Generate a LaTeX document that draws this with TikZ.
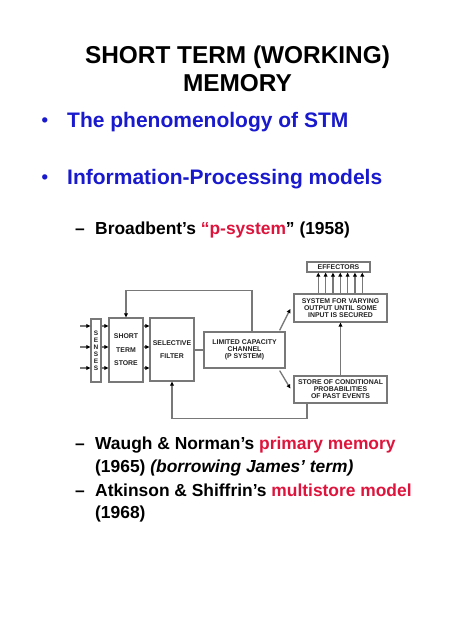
\documentclass[tikz,border=0pt]{standalone}
\usepackage{fontspec}
\setmainfont{Liberation Sans}
\usetikzlibrary{arrows.meta,calc}
\definecolor{ttblue}{RGB}{25,25,205}
\definecolor{ttred}{RGB}{222,20,60}
\definecolor{lgray}{RGB}{120,120,120}
\definecolor{dtext}{RGB}{35,35,35}
\begin{document}
\begin{tikzpicture}[x=1pt,y=-1pt,
  box/.style={draw=lgray, line width=1.3pt, inner sep=0pt, fill=white},
  dtxt/.style={font=\fontsize{6.9}{7}\selectfont\bfseries, text=dtext, align=center},
  arr/.style={draw=lgray, line width=1.3pt, -{Triangle[length=4pt,width=3.8pt,color=black]}},
  conn/.style={draw=lgray, line width=1.3pt},
  txt/.style={inner sep=0pt, anchor=base west},
  titlef/.style={font=\fontsize{24.4}{29}\selectfont\bfseries},
  bulf/.style={font=\fontsize{21}{25}\selectfont\bfseries, text=ttblue},
  dotf/.style={font=\fontsize{18.5}{22}\selectfont\bfseries, text=ttblue},
  subf/.style={font=\fontsize{17.4}{21}\selectfont\bfseries},
]
\fill[white] (0,0) rectangle (474,631);
\useasboundingbox (0,0) rectangle (474,631);

% title
\node[titlef, inner sep=0pt, anchor=base] (t1) at (237.5,64) {SHORT TERM (WORKING)};
\node[titlef, inner sep=0pt, anchor=base] (t2) at (237.5,92) {MEMORY};

% bullets
\node[txt, dotf] (b1d) at (41.5,127) {•};
\node[txt, bulf] (b1) at (67,128) {The phenomenology of STM};
\node[txt, dotf] (b2d) at (41.5,183) {•};
\node[txt, bulf] (b2) at (67,184) {Information-Processing models};

% sub bullets
\node[txt, subf] (s1d) at (75,234) {–};
\node[txt, subf] (s1) at (95,234) {Broadbent’s \textcolor{ttred}{“p-system}” (1958)};
\node[txt, subf] (s2d) at (75,449) {–};
\node[txt, subf] (s2) at (95,449) {Waugh \& Norman’s \textcolor{ttred}{primary memory}};
\node[txt, subf] (s2b) at (95,472) {(1965) \textit{(borrowing James’ term)}};
\node[txt, subf] (s3d) at (75,496) {–};
\node[txt, subf] (s3) at (95,496) {Atkinson \& Shiffrin’s \textcolor{ttred}{multistore model}};
\node[txt, subf] (s3b) at (95,518) {(1968)};

% diagram boxes
\node[box, dtxt, font=\fontsize{6.5}{7}\selectfont\bfseries, minimum width=10pt, minimum height=63pt] (senses) at (96,350.5) {S\\E\\N\\S\\E\\S};
\node[box, dtxt, minimum width=34pt, minimum height=64pt] (sts) at (126,350) {SHORT\\[6.5pt]TERM\\[6.5pt]STORE};
\node[box, dtxt, minimum width=44pt, minimum height=63pt] (filter) at (172,349.5) {SELECTIVE\\[6pt]FILTER};
\node[box, dtxt, minimum width=81pt, minimum height=36pt] (lcc) at (244.5,350) {LIMITED CAPACITY\\CHANNEL\\(P SYSTEM)};
\node[box, dtxt, minimum width=93pt, minimum height=28pt] (svo) at (340.5,308) {SYSTEM FOR VARYING\\OUTPUT UNTIL SOME\\INPUT IS SECURED};
\node[box, dtxt, minimum width=93pt, minimum height=27pt] (store) at (340.5,389.5) {STORE OF CONDITIONAL\\PROBABILITIES\\OF PAST EVENTS};
\node[box, dtxt, minimum width=63pt, minimum height=10pt] (eff) at (338.5,267) {EFFECTORS};

% inputs and parallel arrows
\foreach \i/\yy in {1/326,2/347,3/368} {
  \coordinate (in\i) at (80,\yy);
  \draw[arr] (in\i) -- (in\i -| senses.west);
  \draw[arr] (senses.east |- in\i) -- (sts.west |- in\i);
  \draw[arr] (sts.east |- in\i) -- (filter.west |- in\i);
}

% filter to channel
\draw[conn] (filter.east |- lcc.west) -- (lcc.west);

% top feedback
\draw[arr] ($(lcc.north)+(7.5,0)$) -- ++(0,-41) -| (sts.north);

% bottom feedback
\draw[arr] ($(store.south)+(-33.5,0)$) -- ++(0,15) -| (filter.south);

% diagonals
\draw[arr] ($(lcc.north east)+(-6,-1)$) -- ($(svo.west)+(-3,1)$);
\draw[arr] ($(lcc.south east)+(-6,2)$) -- ($(store.west)+(-3,-1)$);

% store to system
\draw[arr] (store.north) -- (svo.south);

% system to effectors
\foreach \k in {0,...,6} {
  \coordinate (e\k) at ($(svo.north)+(-22.2+7.33*\k,0)$);
  \draw[arr] (e\k) -- (e\k |- eff.south);
}
\end{tikzpicture}
\end{document}
